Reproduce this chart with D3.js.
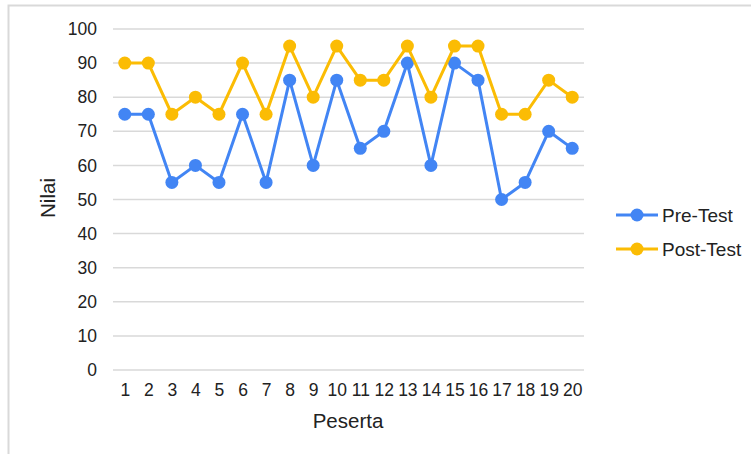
<!DOCTYPE html>
<html>
<head>
<meta charset="utf-8">
<script src="https://cdn.jsdelivr.net/npm/d3@7"></script>
<style>
html,body{margin:0;padding:0;background:#fff;}
svg{display:block;font-family:"Liberation Sans",Arial,sans-serif;}
</style>
</head>
<body>
<svg id="chart" width="751" height="454"></svg>
<script>
const categories = ["1","2","3","4","5","6","7","8","9","10","11","12","13","14","15","16","17","18","19","20"];
const preTest  = [75,75,55,60,55,75,55,85,60,85,65,70,90,60,90,85,50,55,70,65];
const postTest = [90,90,75,80,75,90,75,95,80,95,85,85,95,80,95,95,75,75,85,80];
const yTicks = [0,10,20,30,40,50,60,70,80,90,100];
const seriesNames = ["Pre-Test","Post-Test"];
const seriesColors = ["#4285F4","#FBBC04"];

const svg = d3.select("#chart");
// outer border
svg.append("path").attr("d","M8.5,454 V5.5 H751")
  .attr("fill","none").attr("stroke","#d9d9d9").attr("stroke-width",2);

const pLeft = 113, pRight = 584, pTop = 29, pBottom = 370;
const x = d3.scalePoint().domain(categories).range([pLeft,pRight]).padding(0.5);
const y = d3.scaleLinear().domain([0,100]).range([pBottom,pTop]);

// gridlines
svg.append("g").selectAll("line").data(yTicks).join("line")
  .attr("x1",pLeft).attr("x2",pRight)
  .attr("y1",d=>y(d)).attr("y2",d=>y(d))
  .attr("stroke","#d9d9d9").attr("stroke-width",1.5);

// y axis labels
const yAxis = svg.append("g").attr("transform",`translate(${pLeft},0)`)
  .call(d3.axisLeft(y).tickValues(yTicks).tickSize(0).tickPadding(16));
yAxis.select(".domain").remove();
yAxis.selectAll("text").attr("font-size",17.5).attr("fill","#222")
  .attr("font-family","Liberation Sans, Arial, sans-serif");

// x axis labels
const xAxis = svg.append("g").attr("transform",`translate(0,${pBottom})`)
  .call(d3.axisBottom(x).tickSize(0).tickPadding(14));
xAxis.select(".domain").remove();
xAxis.selectAll("text").attr("font-size",17.5).attr("fill","#222")
  .attr("font-family","Liberation Sans, Arial, sans-serif");

// axis titles
svg.append("text").attr("x",348).attr("y",428).attr("text-anchor","middle")
  .attr("font-size",20.5).attr("fill","#222").text("Peserta");
svg.append("text").attr("transform","translate(54.5,198) rotate(-90)")
  .attr("text-anchor","middle").attr("font-size",20.5).attr("fill","#222").text("Nilai");

const allSeries = [preTest, postTest];
const line = d3.line().x((d,i)=>x(categories[i])).y(d=>y(d));
allSeries.forEach((vals,si)=>{
  const g = svg.append("g");
  g.append("path").datum(vals).attr("d",line)
    .attr("fill","none").attr("stroke",seriesColors[si]).attr("stroke-width",3)
    .attr("stroke-linejoin","round");
  g.selectAll("circle").data(vals).join("circle")
    .attr("cx",(d,i)=>x(categories[i])).attr("cy",d=>y(d)).attr("r",6.5)
    .attr("fill",seriesColors[si]);
});

// legend
const leg = svg.append("g");
seriesNames.forEach((name,i)=>{
  const ly = 215 + i*34;
  leg.append("line").attr("x1",616).attr("x2",658).attr("y1",ly).attr("y2",ly)
    .attr("stroke",seriesColors[i]).attr("stroke-width",3);
  leg.append("circle").attr("cx",637).attr("cy",ly).attr("r",6.5).attr("fill",seriesColors[i]);
  leg.append("text").attr("x",662).attr("y",ly).attr("dy","0.35em")
    .attr("font-size",19).attr("fill","#222").text(name);
});
</script>
</body>
</html>
